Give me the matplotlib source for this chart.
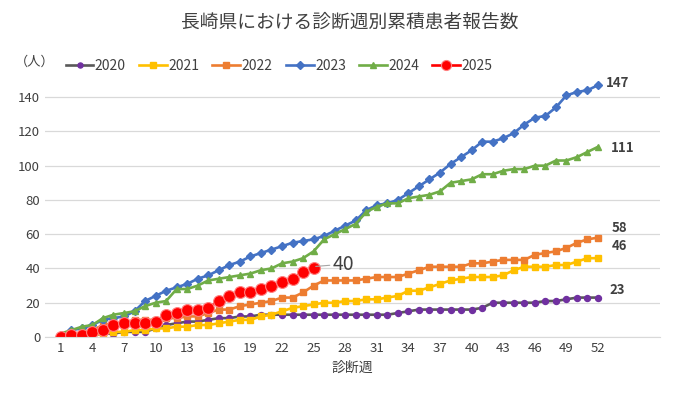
import matplotlib
matplotlib.use("Agg")
import matplotlib.pyplot as plt

plt.rcParams["font.family"] = ["Noto Sans CJK JP", "DejaVu Sans"]
plt.rcParams["font.size"] = 9

weeks = list(range(1, 53))
xticks = list(range(1, 53, 3))

y2020 = [0, 0, 1, 1, 2, 2, 3, 3, 3, 5, 7, 8, 9, 9, 10, 11, 11, 12, 12, 13,
         13, 13, 13, 13, 13, 13, 13, 13, 13, 13, 13, 13, 14, 15, 16, 16, 16, 16, 16, 16,
         17, 20, 20, 20, 20, 20, 21, 21, 22, 23, 23, 23]
y2021 = [0, 0, 1, 1, 2, 3, 3, 4, 4, 5, 5, 6, 6, 7, 7, 8, 9, 10, 10, 12,
         13, 15, 17, 18, 19, 20, 20, 21, 21, 22, 22, 23, 24, 27, 27, 29, 31, 33, 34, 35,
         35, 35, 36, 39, 41, 41, 41, 42, 42, 44, 46, 46]
y2022 = [0, 1, 2, 4, 7, 8, 8, 10, 10, 10, 11, 11, 12, 12, 14, 16, 16, 18, 19, 20,
         21, 23, 23, 26, 30, 33, 33, 33, 33, 34, 35, 35, 35, 37, 39, 41, 41, 41, 41, 43,
         43, 44, 45, 45, 45, 48, 49, 50, 52, 55, 57, 58]
y2023 = [1, 4, 5, 7, 10, 11, 12, 15, 21, 24, 27, 29, 31, 34, 36, 39, 42, 44, 47, 49,
         51, 53, 55, 56, 57, 59, 62, 65, 68, 74, 77, 78, 80, 84, 88, 92, 96, 101, 105, 109,
         114, 114, 116, 119, 124, 128, 129, 134, 141, 143, 144, 147]
y2024 = [2, 4, 6, 7, 11, 13, 14, 15, 18, 20, 21, 28, 28, 30, 33, 34, 35, 36, 37, 39,
         40, 43, 44, 46, 50, 57, 60, 63, 66, 73, 76, 78, 78, 81, 82, 83, 85, 90, 91, 92,
         95, 95, 97, 98, 98, 100, 100, 103, 103, 105, 108, 111]
y2025 = [0, 1, 1, 3, 4, 7, 8, 8, 8, 9, 13, 14, 16, 16, 17, 21, 24, 26, 26, 28,
         30, 32, 34, 38, 40]

fig = plt.figure(figsize=(6.82, 3.96), dpi=100)
ax = fig.add_axes([0.066, 0.149, 0.902, 0.649])

lw = 1.9
ax.plot(weeks, y2020, "-o", color="#595959", mfc="#7030A0", mec="#7030A0", ms=4.3, lw=lw, label="2020")
ax.plot(weeks, y2021, "-s", color="#FFC000", ms=5, lw=lw, label="2021")
ax.plot(weeks, y2022, "-s", color="#ED7D31", ms=5, lw=lw, label="2022")
ax.plot(weeks, y2023, "-D", color="#4472C4", ms=4.5, lw=lw, label="2023")
ax.plot(weeks, y2024, "-^", color="#70AD47", ms=5, lw=lw, label="2024")
ax.plot(weeks[:len(y2025)], y2025, "-o", color="#FF0000", mec="#FF8080", mew=0.8,
        ms=8.5, lw=lw, label="2025")

ax.set_xlim(-0.5, 57.9)
ax.set_ylim(0, 150)
ax.set_xticks(xticks)
ax.set_yticks(range(0, 141, 20))
ax.tick_params(length=0, colors="#404040", labelsize=9.5)
ax.grid(True, axis="y", color="#D9D9D9", lw=0.9)
ax.set_axisbelow(True)
for s in ["top", "right", "left"]:
    ax.spines[s].set_visible(False)
ax.spines["bottom"].set_color("#D9D9D9")
ax.set_xlabel("診断週", fontsize=10, color="#404040", labelpad=4)

# end-of-year labels
ends = [(y2023[-1], 148.5, 52.7), (y2024[-1], 110.3, 53.2),
        (y2022[-1], 63.6, 53.3), (y2021[-1], 53.1, 53.3), (y2020[-1], 27.4, 53.1)]
for val, ty, tx in ends:
    ax.text(tx, ty, str(val), fontsize=9.5, fontweight="bold", color="#404040", va="center")

ax.annotate(str(y2025[-1]), xy=(25.2, 41.2), xytext=(26.8, 42.5), fontsize=14,
            color="#404040", va="center",
            arrowprops=dict(arrowstyle="-", color="#A6A6A6", lw=0.8, shrinkA=0, shrinkB=0))

fig.text(0.513, 0.944, "長崎県における診断週別累積患者報告数", ha="center", va="center",
         fontsize=13.5, color="#404040")
fig.text(0.022, 0.843, "（人）", fontsize=9.5, color="#404040", va="center")
fig.legend(loc="center left", bbox_to_anchor=(0.078, 0.833), ncol=6, frameon=False,
           handlelength=2.0, handletextpad=0.1, columnspacing=0.95, fontsize=10,
           markerscale=0.85, labelcolor="#404040")

fig.savefig("out.png", dpi=100)
